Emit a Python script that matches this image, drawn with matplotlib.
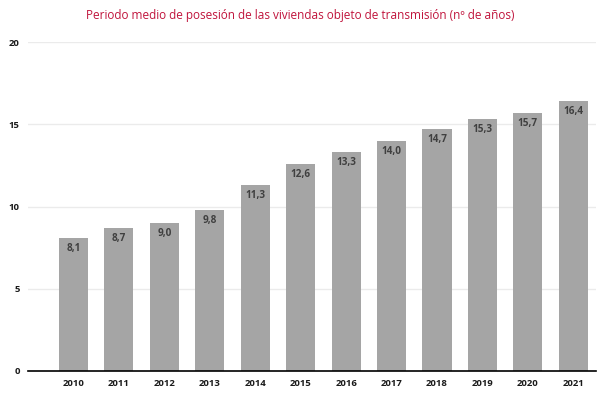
import matplotlib
matplotlib.use("Agg")
import matplotlib.pyplot as plt

years = ["2010", "2011", "2012", "2013", "2014", "2015", "2016", "2017", "2018", "2019", "2020", "2021"]
values = [8.1, 8.7, 9.0, 9.8, 11.3, 12.6, 13.3, 14.0, 14.7, 15.3, 15.7, 16.4]
yticks = [0, 5, 10, 15, 20]

plt.rcParams['font.family'] = ['Open Sans', 'DejaVu Sans']

fig = plt.figure(figsize=(6.01, 3.99), dpi=100)
ax = fig.add_axes([28/601, 1 - 371/399, (596 - 28)/601, (371 - 42)/399])

x = range(len(years))
bars = ax.bar(x, values, width=0.64, color="#a5a5a5", zorder=2)

# value labels inside the top of each bar
for xi, v in zip(x, values):
    ax.text(xi, v - 0.3, f"{v:.1f}".replace(".", ","), ha="center", va="top",
            fontsize=7.2, fontweight="bold", color="#404040", zorder=3)

ax.set_xlim(-1, 11.5)
ax.set_ylim(0, 20)
ax.set_yticks(yticks)
ax.set_yticklabels([str(t) for t in yticks])
ax.set_xticks(list(x))
ax.set_xticklabels(years)
ax.tick_params(axis="both", length=0, labelsize=6.8, colors="#1a1a1a")
for lbl in ax.get_xticklabels() + ax.get_yticklabels():
    lbl.set_fontweight("bold")
ax.tick_params(axis="y", pad=6)
ax.tick_params(axis="x", pad=6)

ax.grid(axis="y", color="#ebebeb", linewidth=1, zorder=0)
for s in ["top", "right", "left"]:
    ax.spines[s].set_visible(False)
ax.spines["bottom"].set_color("black")
ax.spines["bottom"].set_linewidth(1.2)

fig.text(0.5, 1 - 15/399, "Periodo medio de posesión de las viviendas objeto de transmisión (nº de años)",
         ha="center", va="center", fontsize=8.5, color="#c0143c")

fig.savefig("out.png", dpi=100)
